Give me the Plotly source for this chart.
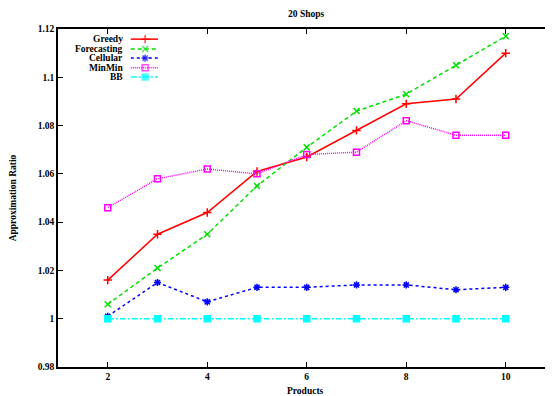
import plotly.graph_objects as go

products = [2, 3, 4, 5, 6, 7, 8, 9, 10]
greedy = [1.016, 1.035, 1.044, 1.061, 1.067, 1.078, 1.089, 1.091, 1.110]
forecasting = [1.006, 1.021, 1.035, 1.055, 1.071, 1.086, 1.093, 1.105, 1.117]
cellular = [1.001, 1.015, 1.007, 1.013, 1.013, 1.014, 1.014, 1.012, 1.013]
minmin = [1.046, 1.058, 1.062, 1.060, 1.068, 1.069, 1.082, 1.076, 1.076]
bb = [1.000, 1.000, 1.000, 1.000, 1.000, 1.000, 1.000, 1.000, 1.000]

x_ticks = [2, 4, 6, 8, 10]
y_ticks = [0.98, 1.00, 1.02, 1.04, 1.06, 1.08, 1.10, 1.12]
y_tick_labels = ["0.98", "1", "1.02", "1.04", "1.06", "1.08", "1.1", "1.12"]

FONT = "Liberation Serif"

series = [
    ("Greedy", greedy, "#ff0000", "solid", "cross-thin-open", 6),
    ("Forecasting", forecasting, "#00e000", "4px,3px", "x-thin-open", 6),
    ("Cellular", cellular, "#0000ff", "dot", "asterisk-open", 6),
    ("MinMin", minmin, "#ff00ff", "1px,1px", "square-open", 6),
    ("BB", bb, "#00ffff", "6px,2px,2px,2px", "square", 6),
]

fig = go.Figure()
for name, vals, color, dash, sym, size in series:
    fig.add_trace(go.Scatter(
        x=products, y=vals, mode="lines+markers", name=name,
        line=dict(color=color, width=1.5, dash=dash),
        marker=dict(symbol=sym, size=size, color=color,
                    line=dict(color=color, width=1.5)),
        showlegend=False,
    ))

# custom legend (text right-aligned, sample to the right)
leg_y = [0.970, 0.941, 0.914, 0.885, 0.858]
annotations = []
for (name, vals, color, dash, sym, size), yy in zip(series, leg_y):
    fig.add_trace(go.Scatter(
        x=[0.147, 0.176, 0.202], y=[yy, yy, yy], xaxis="x2", yaxis="y2",
        mode="lines+markers", showlegend=False, hoverinfo="skip",
        line=dict(color=color, width=1.5, dash=dash),
        marker=dict(symbol=sym, size=[0, size, 0], color=color,
                    line=dict(color=color, width=1.5)),
    ))
    annotations.append(dict(
        x=0.135, y=yy, xref="paper", yref="paper", xanchor="right",
        yanchor="middle", showarrow=False, text="<b>%s</b>" % name,
        font=dict(family=FONT, size=9.5, color="black"),
    ))

annotations.append(dict(
    x=0.50, y=1.0, xref="paper", yref="paper", yanchor="bottom", yshift=8,
    showarrow=False, text="<b>20 Shops</b>",
    font=dict(family=FONT, size=9.5, color="black"),
))
annotations.append(dict(
    x=0.50, y=0.0, xref="paper", yref="paper", yanchor="middle", yshift=-24,
    showarrow=False, text="<b>Products</b>",
    font=dict(family=FONT, size=9.5, color="black"),
))

# page body adds an 8px offset, so the figure is sized to fit
fig.update_layout(
    width=545, height=388,
    margin=dict(l=50, r=0, t=21, b=29),
    paper_bgcolor="white", plot_bgcolor="white",
    font=dict(family=FONT, size=9.5, color="black"),
    annotations=annotations,
    xaxis=dict(
        range=[1, 10.95], tickvals=x_ticks,
        ticktext=["<b>%d</b>" % v for v in x_ticks],
        showgrid=False, zeroline=False, showline=True, linecolor="black",
        linewidth=1.5, mirror="ticks", ticks="inside", ticklen=5,
        tickcolor="black", automargin=False,
    ),
    yaxis=dict(
        range=[0.98, 1.12], tickvals=y_ticks,
        ticktext=["<b>%s</b>" % t for t in y_tick_labels],
        showgrid=False, zeroline=False, showline=True, linecolor="black",
        linewidth=1.5, mirror="ticks", ticks="inside", ticklen=5,
        tickcolor="black", automargin=False,
        title=dict(text="<b>Approximation Ratio</b>", font=dict(family=FONT, size=9.5), standoff=20),
    ),
    xaxis2=dict(range=[0, 1], overlaying="x", visible=False, domain=[0, 1]),
    yaxis2=dict(range=[0, 1], overlaying="y", visible=False),
)

fig.write_html("out.html")
